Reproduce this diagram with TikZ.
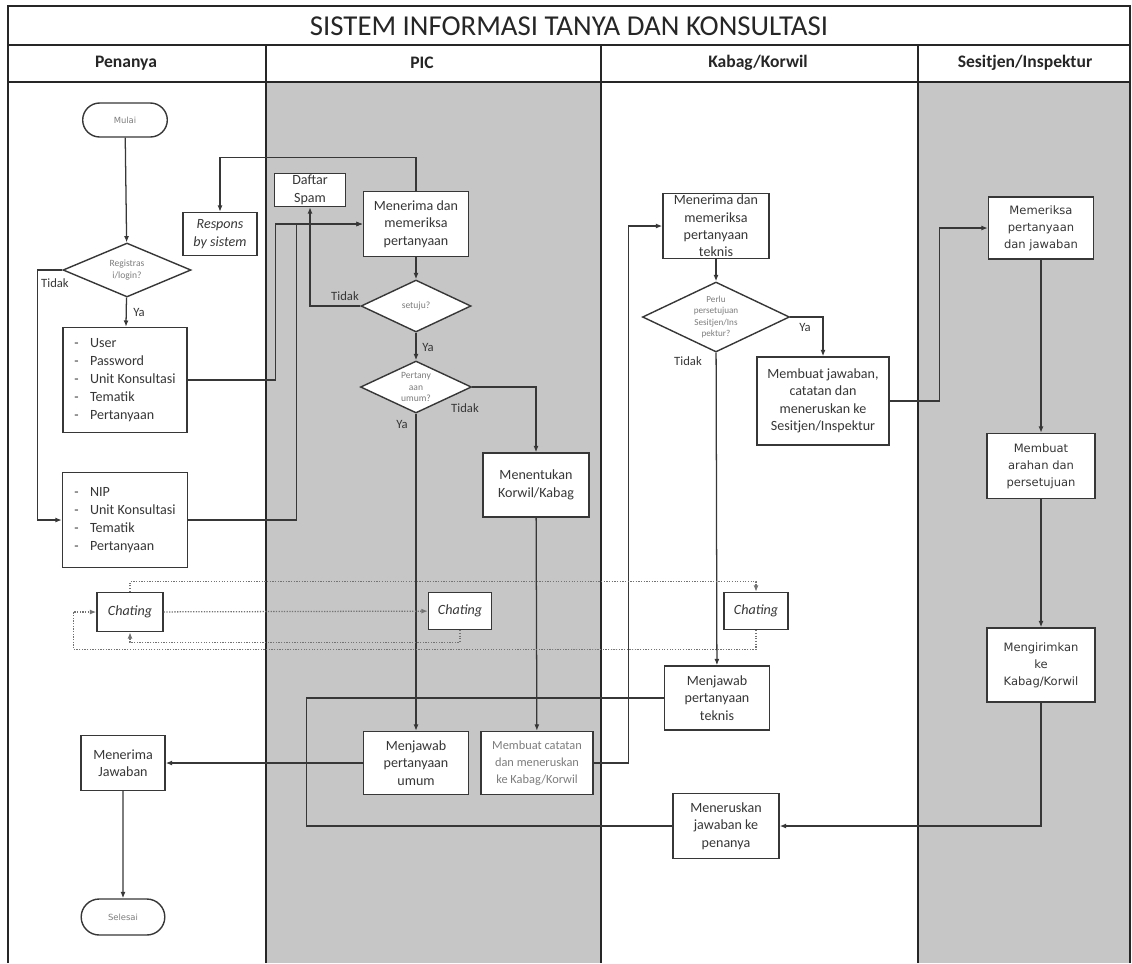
\documentclass[tikz,border=0pt]{standalone}
\usepackage{fontspec}
\setmainfont{Carlito}
\newfontfamily\widefont{DejaVu Sans}
\usetikzlibrary{arrows.meta,shapes.geometric,shapes.misc}
\newcommand{\pxu}{0.025cm}
\newcommand{\itm}[1]{-\hspace{8pt}#1}
\definecolor{lanegray}{RGB}{198,198,198}
\definecolor{inkgray}{RGB}{55,55,55}
\definecolor{softgray}{RGB}{125,125,125}
\tikzset{
  sz/.style 2 args={minimum width=#1*\pxu, minimum height=#2*\pxu},
  box/.style={draw=inkgray, fill=white, line width=1pt, align=center, inner sep=1pt, text=inkgray, font=\fontsize{10}{12.4}\selectfont},
  listbox/.style={box, align=left, font=\fontsize{10}{12.8}\selectfont},
  widebox/.style={box, font=\widefont\fontsize{8.2}{12}\selectfont},
  chatbox/.style={box, font=\itshape\fontsize{10}{12}\selectfont},
  decision/.style={diamond, draw=inkgray, fill=white, line width=1pt, inner sep=0pt, aspect=2.2, align=center, text=softgray, font=\fontsize{6.8}{8.4}\selectfont},
  terminal/.style={rounded rectangle, draw=inkgray, fill=white, line width=1pt, text=softgray, font=\widefont\fontsize{6}{7}\selectfont},
  lanerule/.style={draw=black!85, line width=1pt},
  lanehead/.style={font=\bfseries\fontsize{12.5}{14}\selectfont, text=black!85},
  flow/.style={draw=inkgray, line width=0.9pt, -{Latex[length=4.5pt,width=3.5pt]}},
  link/.style={draw=inkgray, line width=0.9pt},
  chatflow/.style={draw=black!55, line width=0.9pt, densely dotted, -{Latex[length=4.5pt,width=3.5pt]}},
  answer/.style={text=inkgray, font=\fontsize{9}{10}\selectfont, inner sep=0pt},
}
\begin{document}
\begin{tikzpicture}[x=\pxu, y=-\pxu]
                \useasboundingbox (0,0) rectangle (1132,963);
                \fill [lanegray] (266,82) rectangle (601,963);
                \fill [lanegray] (918,82) rectangle (1130,963);
                \draw [lanerule] (8,963) -- (8,6) -- (1130,6) -- (1130,963);
                \draw [lanerule] (8,45) -- (1130,45);
                \draw [lanerule, line width=2pt] (8,82) -- (1130,82);
                \foreach \xl in {266,601,918}
                    \draw [lanerule] (\xl,45) -- (\xl,963);
                \node [font=\fontsize{20.5}{24}\selectfont, text=black!85] (title) at (569,26) {SISTEM INFORMASI TANYA DAN KONSULTASI};
                \node [lanehead] (hPenanya) at (126,63) {Penanya};
                \node [lanehead] (hPIC) at (422,63) {PIC};
                \node [lanehead] (hKabag) at (758,63) {Kabag/Korwil};
                \node [lanehead] (hSesitjen) at (1025,63) {Sesitjen/Inspektur};
                \node [terminal, sz={94}{34}] (mulai) at (125,120) {Mulai};
                \node [decision, sz={128}{54}] (reg) at (127,270) {Registras\\i/login?};
                \node [listbox, sz={124}{105}] (form1) at (125,380) {\itm{User}\\\itm{Password}\\\itm{Unit Konsultasi}\\\itm{Tematik}\\\itm{Pertanyaan}};
                \node [listbox, sz={125}{95}] (form2) at (125,520) {\itm{NIP}\\\itm{Unit Konsultasi}\\\itm{Tematik}\\\itm{Pertanyaan}};
                \node [box, sz={74}{43}, font=\itshape\fontsize{10}{12.4}\selectfont] (respons) at (220,234) {Respons\\by sistem};
                \node [box, sz={71}{33}] (spam) at (310,190) {Daftar\\Spam};
                \node [box, sz={105}{65}] (terima) at (416,224) {Menerima dan\\memeriksa\\pertanyaan};
                \node [decision, sz={110}{52}] (setuju) at (416,306) {setuju?};
                \node [decision, sz={111}{52}] (umum) at (416,387) {Pertany\\aan\\umum?};
                \node [box, sz={106}{64}] (tentukan) at (536,485) {Menentukan\\Korwil/Kabag};
                \node [box, sz={105}{63}] (jawabumum) at (416,763) {Menjawab\\pertanyaan\\umum};
                \node [box, sz={112}{63}, text=softgray, font=\fontsize{8.8}{12.2}\selectfont] (catatan) at (537,763) {Membuat catatan\\dan meneruskan\\ke Kabag/Korwil};
                \node [chatbox, sz={66}{39}] (chat1) at (130,612) {Chating};
                \node [chatbox, sz={63}{37}] (chat2) at (460,611) {Chating};
                \node [chatbox, sz={64}{37}] (chat3) at (756,611) {Chating};
                \node [box, sz={84}{55}] (terimaj) at (123,763) {Menerima\\Jawaban};
                \node [terminal, sz={93}{36}] (selesai) at (123,917) {Selesai};
                \node [box, sz={106}{65}, inner sep=0pt] (teknis) at (716,226) {Menerima dan\\memeriksa\\pertanyaan\\teknis};
                \node [decision, sz={147}{70}, font=\fontsize{6.5}{8.2}\selectfont] (perlu) at (716,317) {Perlu\\persetujuan\\Sesitjen/Ins\\pektur?};
                \node [box, sz={132}{88}] (jawabkirim) at (823,401) {Membuat jawaban,\\catatan dan\\meneruskan ke\\Sesitjen/Inspektur};
                \node [box, sz={105}{64}] (jawabteknis) at (717,698) {Menjawab\\pertanyaan\\teknis};
                \node [box, sz={106}{65}] (teruskan) at (726,826) {Meneruskan\\jawaban ke\\penanya};
                \node [widebox, sz={105}{62}] (periksa) at (1041,228) {Memeriksa\\pertanyaan\\dan jawaban};
                \node [widebox, sz={108}{65}] (arahan) at (1041,466) {Membuat\\arahan dan\\persetujuan};
                \node [widebox, sz={108}{74}] (kirim) at (1041,665) {Mengirimkan\\ke\\Kabag/Korwil};
                \node [answer] (tidakReg) at (55,283) {Tidak};
                \node [answer] (yaReg) at (139,312) {Ya};
                \node [answer] (tidakSetuju) at (345,296) {Tidak};
                \node [answer] (yaSetuju) at (428,347) {Ya};
                \node [answer] (tidakUmum) at (465,408) {Tidak};
                \node [answer] (yaUmum) at (402,424) {Ya};
                \node [answer] (yaPerlu) at (805,327) {Ya};
                \node [answer] (tidakPerlu) at (688,361) {Tidak};
                \draw [flow] (mulai) -- (reg);
                \draw [flow] (reg) -- (form1);
                \draw [flow] (reg.west) -- ++(-25,0) |- (form2.west);
                \draw [flow] (form1.east) -- ++(88,0) |- (terima.west);
                \draw [flow] (form2.east) -- ++(108,0) |- (terima.west);
                \draw [flow] (terima.north) -- ++(0,-33) -| (respons.north);
                \draw [flow] (terima) -- (setuju);
                \draw [flow] (setuju.west) -| (spam.south);
                \draw [flow] (setuju) -- (umum);
                \draw [flow] (umum.east) -| (tentukan.north);
                \draw [flow] (umum) -- (jawabumum);
                \draw [flow] (tentukan) -- (catatan);
                \draw [flow] (catatan.east) -- ++(35,0) |- (teknis.west);
                \draw [flow] (teknis) -- (perlu);
                \draw [flow] (perlu.east) -| (jawabkirim.north);
                \draw [flow] (perlu) -- (jawabteknis);
                \draw [flow] (jawabkirim.east) -- ++(50,0) |- (periksa.west);
                \draw [flow] (periksa) -- (arahan);
                \draw [flow] (arahan) -- (kirim);
                \draw [flow] (kirim.south) |- (teruskan.east);
                \draw [link] (jawabteknis.west) -- ++(-357,0) |- (teruskan.west);
                \draw [flow] (jawabumum) -- (terimaj);
                \draw [flow] (terimaj) -- (selesai);
                \draw [chatflow] (chat1.north) -- ++(0,-10) -| (chat3.north);
                \draw [chatflow] (chat1) -- (chat2);
                \draw [chatflow] (chat2.south) -- ++(0,12) -| (chat1.south);
                \draw [chatflow] (chat3.south) -- ++(0,19) -| ([xshift=-23*\pxu]chat1.west) -- (chat1.west);
            \end{tikzpicture}
\end{document}
